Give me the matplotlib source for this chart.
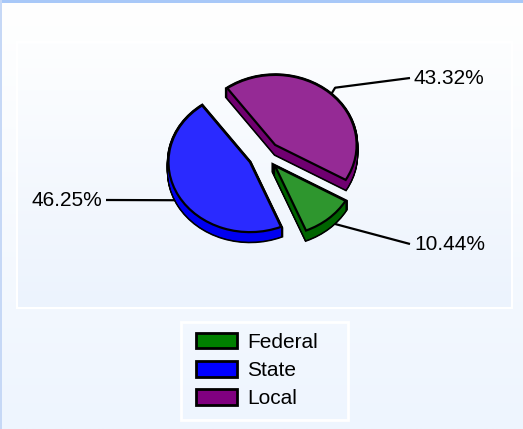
import numpy as np
import matplotlib
matplotlib.use('Agg')
import matplotlib.pyplot as plt
from matplotlib.patches import Rectangle, Patch
from matplotlib.colors import LinearSegmentedColormap

plt.rcParams['font.family'] = ['Liberation Sans', 'DejaVu Sans']

# ---- data ----
categories = ['Federal', 'State', 'Local']
values = [10.44, 46.25, 43.32]
top_colors = ['#2e962e', '#2a2aff', '#952a95']
side_colors = ['#006400', '#0000f0', '#700070']
legend_colors = ['#008000', '#0000ff', '#800080']

W, H = 523, 429
fig = plt.figure(figsize=(W / 100, H / 100), dpi=100)

# ---- background ----
bg = fig.add_axes([0, 0, 1, 1], zorder=0)
grad = np.linspace(0, 1, 256)[:, None]
bg.imshow(grad, extent=(0, W, H, 0), aspect='auto',
          cmap=LinearSegmentedColormap.from_list('f', ['#ffffff', '#eef5fe']))
bg.imshow(grad, extent=(18, 511, 307, 43), aspect='auto',
          cmap=LinearSegmentedColormap.from_list('p', ['#fdfeff', '#ecf3fd']))
bg.add_patch(Rectangle((17, 42), 495, 266, fill=False, edgecolor='white', lw=1.5))
bg.add_patch(Rectangle((0, 0), W, 3, color='#a8c8f8', lw=0))
bg.add_patch(Rectangle((0, 0), 2, H, color='#c6d8f6', lw=0))
bg.set_xlim(0, W)
bg.set_ylim(H, 0)
bg.axis('off')

# ---- pie geometry (pixels) ----
Rx, Ry = 81.5, 70.0
cx, cy = 264.2, 155.3
L = 1.8
ax = fig.add_axes([(cx - L * Rx) / W, 1 - (cy + L * Ry) / H,
                   2 * L * Rx / W, 2 * L * Ry / H], zorder=1)
start = -30
explode = [0.2] * len(values)
depth = 9.5 / Ry
levels = np.linspace(depth, 0, 20)

# side walls: outline pass, then fill pass
for d in levels:
    ax.pie(values, explode=explode, startangle=start, counterclock=False,
           center=(0, -d), colors=side_colors,
           wedgeprops=dict(linewidth=2.4, edgecolor='black'))
for d in levels:
    ax.pie(values, explode=explode, startangle=start, counterclock=False,
           center=(0, -d), colors=side_colors,
           wedgeprops=dict(linewidth=0, edgecolor='none'))
# top faces
ax.pie(values, explode=explode, startangle=start, counterclock=False,
       colors=top_colors, wedgeprops=dict(linewidth=1.6, edgecolor='black'))

ax.set_xlim(-L, L)
ax.set_ylim(-L, L)
ax.set_aspect('auto')
ax.axis('off')

# ---- leader lines and labels ----
def to_data(px, py):
    return (px - cx) / Rx, (cy - py) / Ry

fracs = np.array(values) / sum(values)
mids = []
th = start
for f in fracs:
    mids.append(th - 180 * f)
    th -= 360 * f

label_pos = {'Federal': (410, 244, 'left'), 'State': (106, 200, 'right'),
             'Local': (410, 78, 'left')}
for cat, v, m, e in zip(categories, values, mids, explode):
    r = np.deg2rad(m)
    ax0 = (0.95 + e) * np.cos(r)
    ay0 = (0.95 + e) * np.sin(r) - depth * 0.6
    px, py, ha = label_pos[cat]
    tx, ty = to_data(px, py)
    xs, ys = [ax0], [ay0]
    if cat == 'Local':
        xs.append((1.1 + e) * np.cos(r))
        ys.append((1.1 + e) * np.sin(r))
    xs.append(tx)
    ys.append(ty)
    ax.plot(xs, ys, color='black', lw=1.6, zorder=0.5, solid_capstyle='butt',
            clip_on=False)
    off = 4 if ha == 'left' else -4
    ax.annotate(f'{v:.2f}%', xy=(tx, ty), xytext=(off, 0), textcoords='offset pixels',
                ha=ha, va='center', fontsize=15, color='black',
                annotation_clip=False)

# ---- legend ----
handles = [Patch(facecolor=c, edgecolor='black', linewidth=2) for c in legend_colors]
fig.legend(handles, categories, loc='upper left',
           bbox_to_anchor=(196 / W, 1 - 333 / H), bbox_transform=fig.transFigure,
           frameon=False, fontsize=15, handlelength=1.95, handleheight=0.75,
           handletextpad=0.5, labelspacing=0.44, borderpad=0, borderaxespad=0)
bg.add_patch(Rectangle((181, 322), 167, 98, fill=False, edgecolor='white', lw=2))

fig.savefig('out.png', dpi=100)
